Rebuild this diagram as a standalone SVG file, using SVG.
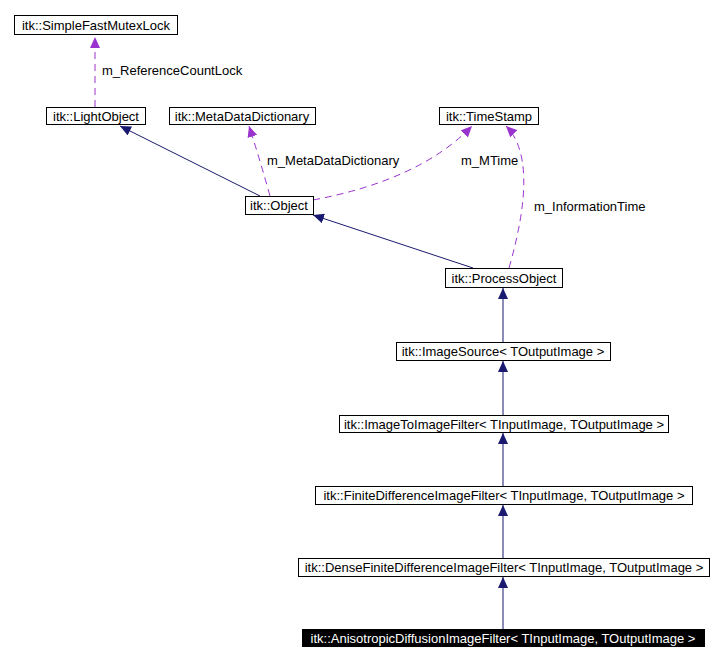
<svg xmlns="http://www.w3.org/2000/svg" width="722" height="662" viewBox="0 0 722 662">
<style>
text{font-family:"Liberation Sans",Arial,sans-serif;font-size:13px;fill:#000}
.n rect{fill:#fff;stroke:#000;stroke-width:1}
.s{stroke:#191970;fill:none;stroke-width:1}
.d{stroke:#9a32cd;fill:none;stroke-width:1;stroke-dasharray:7,5}
</style>
<defs>
<marker id="a" markerWidth="12" markerHeight="10" refX="11" refY="5" orient="auto" markerUnits="userSpaceOnUse"><path d="M0,0 L11,5 L0,10 Z" fill="#191970"/></marker>
<marker id="p" markerWidth="12" markerHeight="10" refX="11" refY="5" orient="auto" markerUnits="userSpaceOnUse"><path d="M0,0 L11,5 L0,10 Z" fill="#9a32cd"/></marker>
</defs>
<rect width="722" height="662" fill="#fff"/>
<g id="edges">
<path class="d" d="M95,107 L95,37" marker-end="url(#p)"/>
<path class="s" d="M260,196 L120,126" marker-end="url(#a)"/>
<path class="d" d="M270,196 Q260,160 249,126" marker-end="url(#p)"/>
<path class="d" d="M313,200 Q420,180 472,126" marker-end="url(#p)"/>
<path class="d" d="M509,268 Q540,160 506,126" marker-end="url(#p)"/>
<path class="s" d="M473,268 L313,215" marker-end="url(#a)"/>
<path class="s" d="M503,342 L503,288" marker-end="url(#a)"/>
<path class="s" d="M503,415 L503,361" marker-end="url(#a)"/>
<path class="s" d="M503,486 L503,433" marker-end="url(#a)"/>
<path class="s" d="M503,558 L503,505" marker-end="url(#a)"/>
<path class="s" d="M503,629 L503,577" marker-end="url(#a)"/>
<text x="102" y="75">m_ReferenceCountLock</text>
<text x="267" y="165">m_MetaDataDictionary</text>
<text x="461" y="165">m_MTime</text>
<text x="534" y="211">m_InformationTime</text>
</g>
<g id="n1" class="n"><rect x="14.5" y="15.5" width="163" height="19"/><text x="96" y="30" text-anchor="middle">itk::SimpleFastMutexLock</text></g>
<g id="n2" class="n"><rect x="46.5" y="107.5" width="99" height="17"/><text x="96" y="121" text-anchor="middle">itk::LightObject</text></g>
<g id="n3" class="n"><rect x="169.5" y="107.5" width="146" height="17"/><text x="242" y="121" text-anchor="middle">itk::MetaDataDictionary</text></g>
<g id="n4" class="n"><rect x="439.5" y="107.5" width="99" height="17"/><text x="489" y="121" text-anchor="middle">itk::TimeStamp</text></g>
<g id="n5" class="n"><rect x="245.5" y="196.5" width="68" height="18"/><text x="279" y="210" text-anchor="middle">itk::Object</text></g>
<g id="n6" class="n"><rect x="445.5" y="268.5" width="117" height="19"/><text x="504" y="283" text-anchor="middle">itk::ProcessObject</text></g>
<g id="n7" class="n"><rect x="396.5" y="342.5" width="214" height="18"/><text x="503" y="356" text-anchor="middle">itk::ImageSource&lt; TOutputImage &gt;</text></g>
<g id="n8" class="n"><rect x="339.5" y="415.5" width="329" height="17"/><text x="504" y="429" text-anchor="middle">itk::ImageToImageFilter&lt; TInputImage, TOutputImage &gt;</text></g>
<g id="n9" class="n"><rect x="315.5" y="486.5" width="377" height="18"/><text x="504" y="500" text-anchor="middle">itk::FiniteDifferenceImageFilter&lt; TInputImage, TOutputImage &gt;</text></g>
<g id="n10" class="n"><rect x="298.5" y="558.5" width="411" height="18"/><text x="504" y="572" text-anchor="middle">itk::DenseFiniteDifferenceImageFilter&lt; TInputImage, TOutputImage &gt;</text></g>
<g id="n11"><rect x="302" y="629" width="403" height="18" fill="#000"/><text x="503" y="643" text-anchor="middle" style="fill:#fff">itk::AnisotropicDiffusionImageFilter&lt; TInputImage, TOutputImage &gt;</text></g>
</svg>
